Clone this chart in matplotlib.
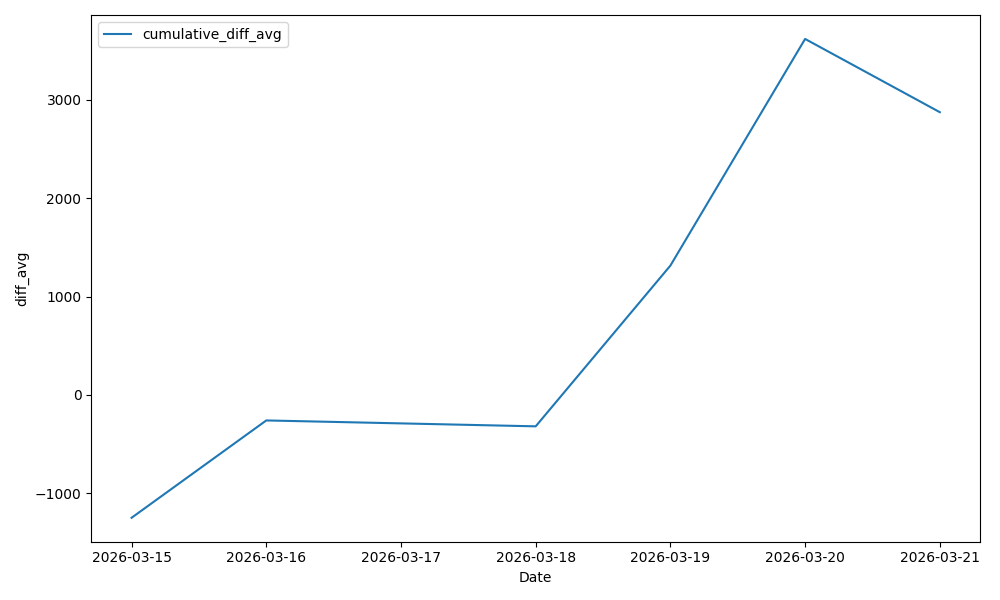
import pandas as pd
import matplotlib
matplotlib.use("Agg")
import matplotlib.pyplot as plt

dates = ["2026-03-15", "2026-03-16", "2026-03-18", "2026-03-19", "2026-03-20", "2026-03-21"]
cumulative_diff_avg = [-1250, -260, -320, 1315, 3620, 2875]

df = pd.DataFrame({"Date": pd.to_datetime(dates), "cumulative_diff_avg": cumulative_diff_avg})

plt.figure(figsize=(10, 6), dpi=100)
plt.plot(df["Date"], df["cumulative_diff_avg"], label="cumulative_diff_avg")
plt.xlabel("Date")
plt.ylabel("diff_avg")
plt.legend(loc="upper left")
plt.tight_layout()
plt.savefig("out.png")
